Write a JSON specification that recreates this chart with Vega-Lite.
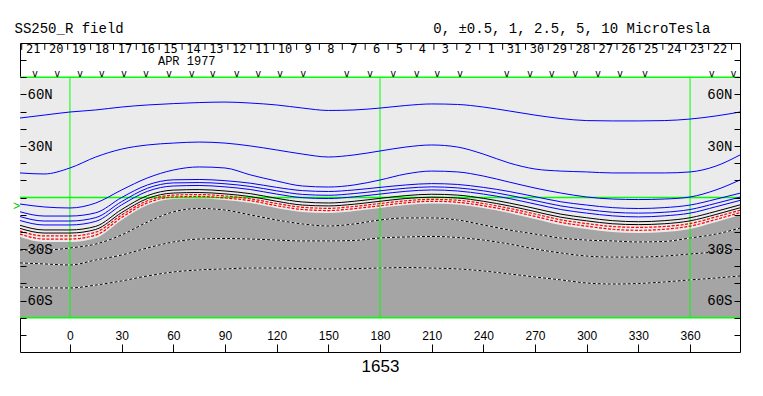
{
  "$schema": "https://vega.github.io/schema/vega-lite/v6.json",
  "width": 720,
  "height": 309,
  "autosize": {"type": "none"},
  "padding": {"left": 20, "top": 43, "right": 23, "bottom": 44},
  "background": "white",
  "config": {"view": {"stroke": "black", "strokeWidth": 1}},
  "resolve": {"axis": {"y": "independent"}},
  "datasets": {
    "field": [
      {"lon": -29, "A": 46.3, "B": 14.3, "C": -3.8, "b3": -8.3, "b2": -11.1, "b1": -13.4, "k2": -16.2, "k1": -18.0, "r2": -19.6, "r1": -21.3, "N": -23.0, "n1": -30.6, "n2": -38.1, "n3": -52.1},
      {"lon": -15, "A": 48.0, "B": 13.7, "C": -5.5, "b3": -10.8, "b2": -13.7, "b1": -16.0, "k2": -18.9, "k1": -20.7, "r2": -22.4, "r1": -24.2, "N": -25.9, "n1": -30.6, "n2": -38.7, "n3": -52.7},
      {"lon": 0, "A": 49.8, "B": 17.2, "C": -6.1, "b3": -10.8, "b2": -13.7, "b1": -16.0, "k2": -18.9, "k1": -20.7, "r2": -22.4, "r1": -24.2, "N": -25.9, "n1": -29.4, "n2": -39.3, "n3": -52.7},
      {"lon": 15, "A": 51.0, "B": 23.6, "C": -3.2, "b3": -8.9, "b2": -11.7, "b1": -13.9, "k2": -16.8, "k1": -18.6, "r2": -20.2, "r1": -21.9, "N": -23.6, "n1": -27.1, "n2": -36.4, "n3": -51.0},
      {"lon": 30, "A": 52.7, "B": 28.2, "C": 4.4, "b3": 0.0, "b2": -2.4, "b1": -4.3, "k2": -7.0, "k1": -8.8, "r2": -10.2, "r1": -11.6, "N": -13.1, "n1": -21.8, "n2": -33.5, "n3": -48.6},
      {"lon": 45, "A": 53.9, "B": 30.6, "C": 11.4, "b3": 7.3, "b2": 5.4, "b1": 3.6, "k2": 1.1, "k1": -0.6, "r2": -1.9, "r1": -3.1, "N": -4.4, "n1": -14.3, "n2": -29.4, "n3": -45.7},
      {"lon": 60, "A": 54.7, "B": 31.7, "C": 16.0, "b3": 10.3, "b2": 8.5, "b1": 6.7, "k2": 4.3, "k1": 2.6, "r2": 1.4, "r1": 0.3, "N": -0.9, "n1": -8.4, "n2": -25.9, "n3": -43.4},
      {"lon": 75, "A": 55.3, "B": 32.3, "C": 17.8, "b3": 10.5, "b2": 8.7, "b1": 7.0, "k2": 4.6, "k1": 2.9, "r2": 1.7, "r1": 0.6, "N": -0.6, "n1": -6.4, "n2": -24.2, "n3": -42.2},
      {"lon": 90, "A": 55.6, "B": 31.7, "C": 17.2, "b3": 9.8, "b2": 8.0, "b1": 6.2, "k2": 3.8, "k1": 2.1, "r2": 0.9, "r1": -0.3, "N": -1.5, "n1": -7.3, "n2": -23.9, "n3": -41.6},
      {"lon": 105, "A": 55.0, "B": 30.0, "C": 13.1, "b3": 8.3, "b2": 6.4, "b1": 4.6, "k2": 2.2, "k1": 0.5, "r2": -0.8, "r1": -1.9, "N": -3.2, "n1": -10.2, "n2": -24.2, "n3": -41.1},
      {"lon": 120, "A": 53.9, "B": 27.7, "C": 9.6, "b3": 5.9, "b2": 3.9, "b1": 2.0, "k2": -0.5, "k1": -2.2, "r2": -3.5, "r1": -4.8, "N": -6.1, "n1": -13.1, "n2": -24.8, "n3": -41.1},
      {"lon": 135, "A": 52.1, "B": 25.3, "C": 6.7, "b3": 4.0, "b2": 1.8, "b1": -0.1, "k2": -2.6, "k1": -4.4, "r2": -5.7, "r1": -7.0, "N": -8.4, "n1": -15.4, "n2": -25.3, "n3": -41.4},
      {"lon": 150, "A": 50.7, "B": 23.6, "C": 6.1, "b3": 3.5, "b2": 1.3, "b1": -0.6, "k2": -3.2, "k1": -4.9, "r2": -6.3, "r1": -7.6, "N": -9.0, "n1": -16.6, "n2": -25.3, "n3": -41.6},
      {"lon": 165, "A": 51.0, "B": 24.8, "C": 7.3, "b3": 4.4, "b2": 2.3, "b1": 0.4, "k2": -2.2, "k1": -3.9, "r2": -5.2, "r1": -6.5, "N": -7.9, "n1": -15.4, "n2": -25.0, "n3": -41.4},
      {"lon": 180, "A": 52.1, "B": 27.1, "C": 10.2, "b3": 5.9, "b2": 3.9, "b1": 2.0, "k2": -0.5, "k1": -2.2, "r2": -3.5, "r1": -4.8, "N": -6.1, "n1": -13.1, "n2": -23.6, "n3": -41.1},
      {"lon": 195, "A": 53.6, "B": 29.4, "C": 13.7, "b3": 7.3, "b2": 5.4, "b1": 3.6, "k2": 1.1, "k1": -0.6, "r2": -1.9, "r1": -3.1, "N": -4.4, "n1": -11.9, "n2": -23.0, "n3": -40.8},
      {"lon": 210, "A": 54.5, "B": 30.6, "C": 15.4, "b3": 8.1, "b2": 6.2, "b1": 4.4, "k2": 1.9, "k1": 0.2, "r2": -1.1, "r1": -2.2, "N": -3.5, "n1": -11.9, "n2": -22.7, "n3": -41.1},
      {"lon": 225, "A": 54.2, "B": 29.4, "C": 14.9, "b3": 7.6, "b2": 5.6, "b1": 3.8, "k2": 1.4, "k1": -0.3, "r2": -1.6, "r1": -2.8, "N": -4.1, "n1": -13.1, "n2": -23.3, "n3": -41.6},
      {"lon": 240, "A": 52.7, "B": 25.3, "C": 12.5, "b3": 5.9, "b2": 3.9, "b1": 2.0, "k2": -0.5, "k1": -2.2, "r2": -3.5, "r1": -4.8, "N": -6.1, "n1": -16.0, "n2": -24.8, "n3": -42.8},
      {"lon": 255, "A": 50.4, "B": 20.1, "C": 9.0, "b3": 3.5, "b2": 1.3, "b1": -0.6, "k2": -3.2, "k1": -4.9, "r2": -6.3, "r1": -7.6, "N": -9.0, "n1": -18.9, "n2": -27.1, "n3": -44.5},
      {"lon": 270, "A": 48.0, "B": 16.6, "C": 5.5, "b3": 0.5, "b2": -1.8, "b1": -3.8, "k2": -6.4, "k1": -8.2, "r2": -9.6, "r1": -11.0, "N": -12.5, "n1": -21.3, "n2": -30.0, "n3": -46.3},
      {"lon": 285, "A": 46.0, "B": 15.4, "C": 2.6, "b3": -2.5, "b2": -4.9, "b1": -7.0, "k2": -9.7, "k1": -11.5, "r2": -13.0, "r1": -14.5, "N": -16.0, "n1": -23.6, "n2": -32.3, "n3": -48.0},
      {"lon": 300, "A": 44.8, "B": 14.9, "C": 0.3, "b3": -4.4, "b2": -7.0, "b1": -9.1, "k2": -11.8, "k1": -13.6, "r2": -15.2, "r1": -16.7, "N": -18.3, "n1": -24.8, "n2": -34.1, "n3": -49.8},
      {"lon": 315, "A": 44.6, "B": 14.3, "C": -0.9, "b3": -5.9, "b2": -8.6, "b1": -10.7, "k2": -13.5, "k1": -15.3, "r2": -16.9, "r1": -18.5, "N": -20.1, "n1": -25.3, "n2": -34.7, "n3": -50.4},
      {"lon": 330, "A": 44.6, "B": 14.3, "C": -1.2, "b3": -6.4, "b2": -9.1, "b1": -11.3, "k2": -14.1, "k1": -15.8, "r2": -17.4, "r1": -19.1, "N": -20.7, "n1": -25.9, "n2": -34.7, "n3": -50.1},
      {"lon": 345, "A": 44.8, "B": 14.3, "C": -0.9, "b3": -5.9, "b2": -8.6, "b1": -10.7, "k2": -13.5, "k1": -15.3, "r2": -16.9, "r1": -18.5, "N": -20.1, "n1": -25.6, "n2": -34.1, "n3": -49.2},
      {"lon": 360, "A": 45.7, "B": 14.9, "C": 0.3, "b3": -4.4, "b2": -7.0, "b1": -9.1, "k2": -11.8, "k1": -13.6, "r2": -15.2, "r1": -16.7, "N": -18.3, "n1": -23.6, "n2": -32.9, "n3": -48.0},
      {"lon": 375, "A": 47.5, "B": 18.3, "C": 4.4, "b3": -1.0, "b2": -3.4, "b1": -5.4, "k2": -8.1, "k1": -9.9, "r2": -11.3, "r1": -12.8, "N": -14.3, "n1": -21.3, "n2": -31.7, "n3": -46.9},
      {"lon": 389, "A": 49.8, "B": 24.8, "C": 10.2, "b3": 2.5, "b2": 0.2, "b1": -1.7, "k2": -4.3, "k1": -6.0, "r2": -7.4, "r1": -8.8, "N": -10.2, "n1": -17.8, "n2": -30.0, "n3": -45.7}
    ],
    "days": [
      {"lon": -21.3, "d": "21"}, {"lon": -8.0, "d": "20"}, {"lon": 5.3, "d": "19"}, {"lon": 18.6, "d": "18"},
      {"lon": 31.9, "d": "17"}, {"lon": 45.2, "d": "16"}, {"lon": 58.4, "d": "15"}, {"lon": 71.7, "d": "14"},
      {"lon": 85.0, "d": "13"}, {"lon": 98.3, "d": "12"}, {"lon": 111.6, "d": "11"}, {"lon": 124.9, "d": "10"},
      {"lon": 138.2, "d": "9"}, {"lon": 151.5, "d": "8"}, {"lon": 164.8, "d": "7"}, {"lon": 178.1, "d": "6"},
      {"lon": 191.3, "d": "5"}, {"lon": 204.6, "d": "4"}, {"lon": 217.9, "d": "3"}, {"lon": 231.2, "d": "2"},
      {"lon": 244.5, "d": "1"}, {"lon": 257.8, "d": "31"}, {"lon": 271.1, "d": "30"}, {"lon": 284.4, "d": "29"},
      {"lon": 297.7, "d": "28"}, {"lon": 311.0, "d": "27"}, {"lon": 324.2, "d": "26"}, {"lon": 337.5, "d": "25"},
      {"lon": 350.8, "d": "24"}, {"lon": 364.1, "d": "23"}, {"lon": 377.4, "d": "22"}
    ],
    "dticks": [
      {"lon": -28.0}, {"lon": -14.6}, {"lon": -1.3}, {"lon": 12.0}, {"lon": 25.3}, {"lon": 38.5}, {"lon": 51.8},
      {"lon": 65.1}, {"lon": 78.4}, {"lon": 91.7}, {"lon": 105.0}, {"lon": 118.3}, {"lon": 131.6}, {"lon": 144.8},
      {"lon": 158.1}, {"lon": 171.4}, {"lon": 184.7}, {"lon": 198.0}, {"lon": 211.3}, {"lon": 224.6}, {"lon": 237.9},
      {"lon": 251.2}, {"lon": 264.5}, {"lon": 277.7}, {"lon": 291.0}, {"lon": 304.3}, {"lon": 317.6}, {"lon": 330.9},
      {"lon": 344.2}, {"lon": 357.5}, {"lon": 370.8}, {"lon": 384.1}
    ],
    "vmarks": [
      {"lon": -20.3}, {"lon": -7.4}, {"lon": 5.8}, {"lon": 18.4}, {"lon": 31.4}, {"lon": 44.1}, {"lon": 57.5},
      {"lon": 70.7}, {"lon": 82.9}, {"lon": 96.8}, {"lon": 109.3}, {"lon": 122.0}, {"lon": 135.5}, {"lon": 160.7},
      {"lon": 174.2}, {"lon": 187.7}, {"lon": 201.3}, {"lon": 213.3}, {"lon": 226.5}, {"lon": 253.6}, {"lon": 267.1},
      {"lon": 279.7}, {"lon": 293.3}, {"lon": 306.6}, {"lon": 319.4}, {"lon": 333.9}, {"lon": 372.6}, {"lon": 385.2}
    ],
    "vgrid": [{"lon": 0}, {"lon": 180}, {"lon": 360}],
    "hgrid": [
      {"g": "n", "lon": -29, "lat": 70}, {"g": "n", "lon": 389, "lat": 70},
      {"g": "e", "lon": -29, "lat": 0}, {"g": "e", "lon": 389, "lat": 0},
      {"g": "s", "lon": -29, "lat": -70}, {"g": "s", "lon": 389, "lat": -70}
    ]
  },
  "encoding": {
    "x": {"field": "lon", "type": "quantitative", "scale": {"domain": [-29, 389], "nice": false, "zero": false},
      "axis": {"orient": "bottom", "zindex": 1, "values": [0, 30, 60, 90, 120, 150, 180, 210, 240, 270, 300, 330, 360], "tickSize": -8, "labelPadding": -2, "labelBaseline": "bottom",
        "labelFont": "Liberation Sans", "labelFontSize": 12, "labelColor": "black", "tickColor": "black", "domain": false, "grid": false,
        "labelFlush": false, "labelOverlap": false,
        "title": "1653", "titleFont": "Liberation Sans", "titleFontSize": 17, "titleFontWeight": "normal", "titleColor": "black", "titlePadding": 6}}
  },
  "layer": [
    {
      "data": {"name": "field"},
      "mark": {"type": "area", "color": "#ebebeb", "interpolate": "monotone"},
      "encoding": {
        "y": {"field": "N", "type": "quantitative", "scale": {"domain": [-90, 90], "nice": false, "zero": false},
          "axis": {"orient": "left", "zindex": 1, "values": [-80, -70, -60, -50, -40, -30, -20, -10, 0, 10, 20, 30, 40, 50, 60, 70, 80], "tickSize": -6, "labelPadding": -1,
            "labelAlign": "left", "labelBaseline": "middle",
            "labelExpr": "datum.value == 60 ? '60N' : datum.value == 30 ? '30N' : datum.value == -30 ? '30S' : datum.value == -60 ? '60S' : ''",
            "labelFont": "Liberation Mono", "labelFontSize": 14, "labelColor": "black", "tickColor": "black", "domain": false, "grid": false, "labelOverlap": false,
            "title": "SS250_R field", "titleAngle": 0, "titleX": -6, "titleY": -11, "titleAlign": "left", "titleBaseline": "alphabetic",
            "titleFont": "Liberation Mono", "titleFontSize": 14, "titleFontWeight": "normal", "titleColor": "black"}},
        "y2": {"datum": 70}
      }
    },
    {
      "data": {"name": "field"},
      "mark": {"type": "area", "color": "#a5a5a5", "interpolate": "monotone"},
      "encoding": {
        "y": {"field": "N", "type": "quantitative", "axis": null},
        "y2": {"datum": -70}
      }
    },
    {
      "data": {"name": "field"},
      "transform": [{"fold": ["n1", "n2", "n3"], "as": ["key", "lat"]}],
      "mark": {"type": "line", "color": "white", "strokeWidth": 1, "interpolate": "monotone"},
      "encoding": {"y": {"field": "lat", "type": "quantitative", "axis": null}, "detail": {"field": "key"}}
    },
    {
      "data": {"name": "field"},
      "transform": [{"fold": ["n1", "n2", "n3"], "as": ["key", "lat"]}],
      "mark": {"type": "line", "color": "black", "strokeWidth": 1, "strokeDash": [3, 2], "interpolate": "monotone"},
      "encoding": {"y": {"field": "lat", "type": "quantitative", "axis": null}, "detail": {"field": "key"}}
    },
    {
      "data": {"name": "vgrid"},
      "mark": {"type": "rule", "color": "#00ff00", "strokeWidth": 1},
      "encoding": {
        "y": {"datum": -70, "type": "quantitative", "axis": null},
        "y2": {"datum": 70}
      }
    },
    {
      "data": {"name": "hgrid"},
      "mark": {"type": "line", "color": "#00ff00", "strokeWidth": 1.5},
      "encoding": {
        "detail": {"field": "g"},
        "y": {"field": "lat", "type": "quantitative",
          "axis": {"orient": "right", "zindex": 1, "values": [-80, -70, -60, -50, -40, -30, -20, -10, 0, 10, 20, 30, 40, 50, 60, 70, 80], "tickSize": -6, "labelPadding": -2,
            "labelAlign": "right", "labelBaseline": "middle",
            "labelExpr": "datum.value == 60 ? '60N' : datum.value == 30 ? '30N' : datum.value == -30 ? '30S' : datum.value == -60 ? '60S' : ''",
            "labelFont": "Liberation Mono", "labelFontSize": 14, "labelColor": "black", "tickColor": "black", "domain": false, "grid": false, "labelOverlap": false,
            "title": "0, ±0.5, 1, 2.5, 5, 10 MicroTesla", "titleAngle": 0, "titleX": -30, "titleY": -11, "titleAlign": "right", "titleBaseline": "alphabetic",
            "titleFont": "Liberation Mono", "titleFontSize": 14, "titleFontWeight": "normal", "titleColor": "black"}}
      }
    },
    {
      "data": {"name": "field"},
      "transform": [{"fold": ["r1", "r2"], "as": ["key", "lat"]}],
      "mark": {"type": "line", "color": "#ff0000", "strokeWidth": 1.2, "strokeDash": [3, 1.5], "interpolate": "monotone"},
      "encoding": {"y": {"field": "lat", "type": "quantitative", "axis": null}, "detail": {"field": "key"}}
    },
    {
      "data": {"name": "field"},
      "transform": [{"fold": ["k1", "k2"], "as": ["key", "lat"]}],
      "mark": {"type": "line", "color": "black", "strokeWidth": 1, "interpolate": "monotone"},
      "encoding": {"y": {"field": "lat", "type": "quantitative", "axis": null}, "detail": {"field": "key"}}
    },
    {
      "data": {"name": "field"},
      "transform": [{"fold": ["A", "B", "C", "b3", "b2", "b1"], "as": ["key", "lat"]}],
      "mark": {"type": "line", "color": "#0000ff", "strokeWidth": 1, "interpolate": "monotone"},
      "encoding": {"y": {"field": "lat", "type": "quantitative", "axis": null}, "detail": {"field": "key"}}
    },
    {
      "data": {"name": "dticks"},
      "mark": {"type": "rule", "color": "black", "strokeWidth": 1},
      "encoding": {
        "y": {"datum": 90, "type": "quantitative", "axis": null},
        "y2": {"datum": 86}
      }
    },
    {
      "data": {"name": "days"},
      "mark": {"type": "text", "font": "DejaVu Sans Mono", "fontSize": 12, "color": "black", "baseline": "middle", "align": "center"},
      "encoding": {
        "y": {"datum": 86.3, "type": "quantitative", "axis": null},
        "text": {"field": "d"}
      }
    },
    {
      "data": {"name": "vmarks"},
      "mark": {"type": "text", "text": "v", "font": "DejaVu Sans Mono", "fontSize": 10, "color": "black", "baseline": "middle", "align": "center"},
      "encoding": {
        "y": {"datum": 72.1, "type": "quantitative", "axis": null}
      }
    },
    {
      "data": {"values": [{"lon": 67.8, "lat": 79.6, "t": "APR 1977"}, {"lon": -31, "lat": -5.2, "t": ">"}]},
      "mark": {"type": "text", "font": "Liberation Mono", "fontSize": 12, "baseline": "middle", "align": "center"},
      "encoding": {
        "y": {"field": "lat", "type": "quantitative", "axis": null},
        "text": {"field": "t"},
        "color": {"field": "t", "type": "nominal", "scale": {"domain": ["APR 1977", ">"], "range": ["black", "#00cc00"]}, "legend": null}
      }
    }
  ]
}
